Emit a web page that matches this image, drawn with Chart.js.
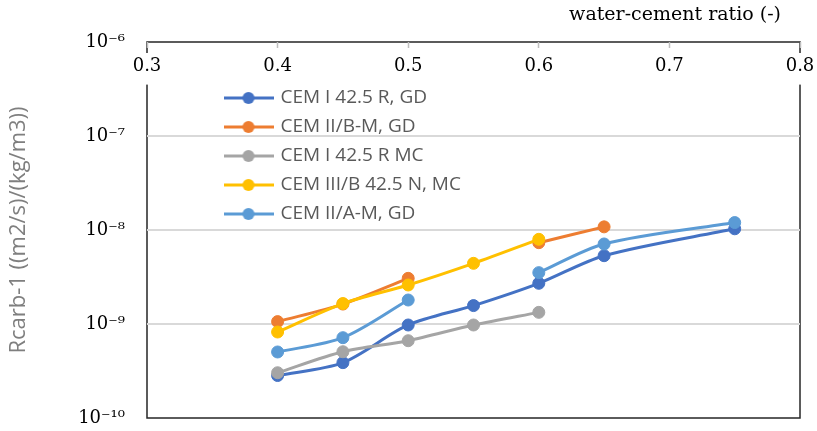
<!DOCTYPE html>
<html>
<head>
<meta charset="utf-8">
<script src="https://cdn.jsdelivr.net/npm/chart.js@4"></script>
<style>
  body { margin: 0; background: #fff; }
  #wrap { width: 817px; height: 431px; }
</style>
</head>
<body>
<div id="wrap"><canvas id="rcarb-chart"></canvas></div>
<script>
// water-cement ratios on the x axis
const wc_ratio = [0.4, 0.45, 0.5, 0.55, 0.6, 0.65, 0.75];

const series_names = [
  "CEM I 42.5 R, GD",
  "CEM II/B-M, GD",
  "CEM I 42.5 R MC",
  "CEM III/B 42.5 N, MC",
  "CEM II/A-M, GD"
];

// Rcarb-1 values, null = no measurement
const cem_I_gd    = [2.83e-10, 3.88e-10, 9.76e-10, 1.57e-9, 2.71e-9, 5.33e-9, 1.03e-8];
const cem_IIB_gd  = [1.06e-9, 1.63e-9, 3.06e-9, null, 7.33e-9, 1.08e-8, null];
const cem_I_mc    = [3.03e-10, 5.07e-10, 6.64e-10, 9.76e-10, 1.33e-9, null, null];
const cem_IIIB_mc = [8.22e-10, 1.65e-9, 2.60e-9, 4.42e-9, 7.96e-9, null, null];
const cem_IIA_gd  = [5.04e-10, 7.15e-10, 1.80e-9, null, 3.52e-9, 7.10e-9, 1.20e-8];

const y_ticks = [1e-10, 1e-9, 1e-8, 1e-7, 1e-6];
const y_tick_labels = ["10⁻¹⁰", "10⁻⁹", "10⁻⁸", "10⁻⁷", "10⁻⁶"];

const colors = ["#4472C4", "#ED7D31", "#A5A5A5", "#FFC000", "#5B9BD5"];
const all_series = [cem_I_gd, cem_IIB_gd, cem_I_mc, cem_IIIB_mc, cem_IIA_gd];

// legend icons: short line with a dot, like the excel legend
const icons = colors.map(c => {
  const cv = document.createElement("canvas");
  cv.width = 50; cv.height = 14;
  const g = cv.getContext("2d");
  g.strokeStyle = c; g.lineWidth = 3;
  g.beginPath(); g.moveTo(0, 7); g.lineTo(50, 7); g.stroke();
  g.fillStyle = c;
  g.beginPath(); g.arc(25, 7, 6, 0, Math.PI * 2); g.fill();
  return cv;
});

const datasets = all_series.map((vals, i) => ({
  label: series_names[i],
  data: vals.map((v, j) => ({x: wc_ratio[j], y: v})),
  borderColor: colors[i],
  backgroundColor: colors[i],
  pointBackgroundColor: colors[i],
  pointBorderColor: colors[i],
  borderWidth: 3,
  pointRadius: 6,
  pointBorderWidth: 1,
  tension: 0.3,
  spanGaps: false,
  order: all_series.length - i   // later series drawn on top
}));

// frame around the plot (drawn first so the x labels sit on top of it)
// + move the legend into the plot
const framePlugin = {
  id: "frame",
  afterLayout(chart) {
    const lg = chart.legend;
    const a = chart.chartArea;
    if (lg) {
      lg.left = a.left + 69;
      lg.right = a.right;
      lg.top = a.top + 36.5;
      lg.bottom = a.bottom;
    }
  },
  beforeDraw(chart) {
    const {ctx, chartArea: a} = chart;
    ctx.save();
    ctx.strokeStyle = "#262626";
    ctx.lineWidth = 1.5;
    ctx.strokeRect(a.left, a.top, a.right - a.left, a.bottom - a.top);
    ctx.restore();
  }
};

new Chart(document.getElementById("rcarb-chart").getContext("2d"), {
  type: "line",
  data: { datasets: datasets },
  plugins: [framePlugin],
  options: {
    responsive: true,
    maintainAspectRatio: false,
    animation: false,
    layout: { padding: { left: 0, top: 0, right: 17, bottom: 13 } },
    plugins: {
      tooltip: { enabled: false },
      legend: {
        position: "chartArea",
        align: "start",
        labels: {
          usePointStyle: true,
          pointStyleWidth: 45,
          padding: 10,
          color: "#595959",
          font: { family: "Open Sans", size: 19 },
          sort: (a, b) => a.datasetIndex - b.datasetIndex,
          generateLabels(chart) {
            const items = Chart.defaults.plugins.legend.labels.generateLabels(chart);
            items.forEach(it => { it.pointStyle = icons[it.datasetIndex]; });
            return items;
          }
        }
      }
    },
    scales: {
      x: {
        type: "linear",
        position: "top",
        min: 0.3,
        max: 0.8,
        afterFit: axis => {
          axis.height = 42;
          axis.paddingLeft = 0;
          axis.paddingRight = 0;
        },
        border: { display: false },
        grid: {
          display: true,
          drawOnChartArea: false,
          drawTicks: true,
          tickLength: -6,
          tickColor: "#bfbfbf",
          tickWidth: 1.5
        },
        ticks: {
          stepSize: 0.1,
          mirror: true,
          padding: 14,
          color: "#000",
          showLabelBackdrop: true,
          backdropColor: "#fff",
          backdropPadding: { top: 3, bottom: 7, left: 1, right: 1 },
          font: { family: "DejaVu Serif", size: 18 }
        },
        title: {
          display: true,
          text: "water-cement ratio (-)\u2003",
          align: "end",
          color: "#000",
          padding: { top: 4, bottom: 0 },
          font: { family: "DejaVu Serif", size: 19 }
        }
      },
      y: {
        type: "logarithmic",
        min: 1e-10,
        max: 1e-6,
        afterFit: axis => {
          axis.width = 147;
          axis.paddingTop = 0;
          axis.paddingBottom = 0;
        },
        afterBuildTicks: axis => { axis.ticks = y_ticks.map(v => ({value: v})); },
        border: { display: false },
        grid: {
          color: c => (c.index === 0 || c.index === y_ticks.length - 1) ? "rgba(0,0,0,0)" : "#d9d9d9",
          lineWidth: 2,
          drawTicks: false
        },
        ticks: {
          padding: 22,
          color: "#000",
          font: { family: "DejaVu Serif", size: 18 },
          callback: value => {
            const k = y_ticks.findIndex(t => Math.abs(Math.log10(t) - Math.log10(value)) < 0.01);
            return k >= 0 ? y_tick_labels[k] : "";
          }
        },
        title: {
          display: true,
          text: "Rcarb-1 ((m2/s)/(kg/m3))",
          color: "#7f7f7f",
          padding: { top: 6, bottom: 0 },
          font: { family: "Open Sans", size: 22 }
        }
      }
    }
  }
});
</script>
</body>
</html>
